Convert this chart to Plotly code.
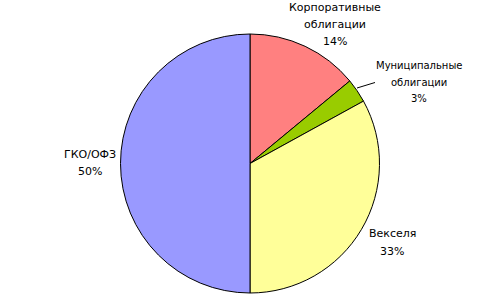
import plotly.graph_objects as go

labels = ["Корпоративные облигации", "Муниципальные облигации", "Векселя", "ГКО/ОФЗ"]
values = [14, 3, 33, 50]
pct_text = ["14%", "3%", "33%", "50%"]
colors = ["#FF8080", "#99CC00", "#FFFF99", "#9999FF"]

W, H = 504, 300
def px(x):
    return x / W
def py(y):
    return (H - y) / H

fig = go.Figure(go.Pie(
    labels=labels, values=values, sort=False, direction="clockwise", rotation=0,
    marker=dict(colors=colors, line=dict(color="black", width=1)),
    textinfo="none", hoverinfo="label+percent", showlegend=False,
    domain=dict(x=[px(120.5), px(379.5)], y=[py(293.5), py(33.5)]),
))

font_main = dict(family="DejaVu Sans", size=11, color="black")
font_small = dict(family="DejaVu Sans", size=10, color="black")

ann = [
    ("Корпоративные", 334.5, 8, font_main),
    ("облигации", 334.5, 24.5, font_main),
    (pct_text[0], 334.5, 41, font_main),
    ("Муниципальные", 418.5, 66, font_small),
    ("облигации", 418.5, 82.5, font_small),
    (pct_text[1], 418.5, 99, font_small),
    ("Векселя", 392, 233.5, font_main),
    (pct_text[2], 392, 251, font_main),
    ("ГКО/ОФЗ", 90, 154.5, font_main),
    (pct_text[3], 90, 171, font_main),
]
annotations = [dict(text=t, x=px(x), y=py(y), xref="paper", yref="paper",
                    xanchor="center", yanchor="middle", showarrow=False,
                    font=f, align="center") for t, x, y, f in ann]

fig.update_layout(
    width=W, height=H, margin=dict(l=0, r=0, t=0, b=0),
    paper_bgcolor="white", plot_bgcolor="white",
    annotations=annotations,
    shapes=[dict(type="line", xref="paper", yref="paper",
                 x0=px(357), y0=py(88), x1=px(375), y1=py(82.5),
                 line=dict(color="black", width=1))],
)
fig.write_html("out.html")
